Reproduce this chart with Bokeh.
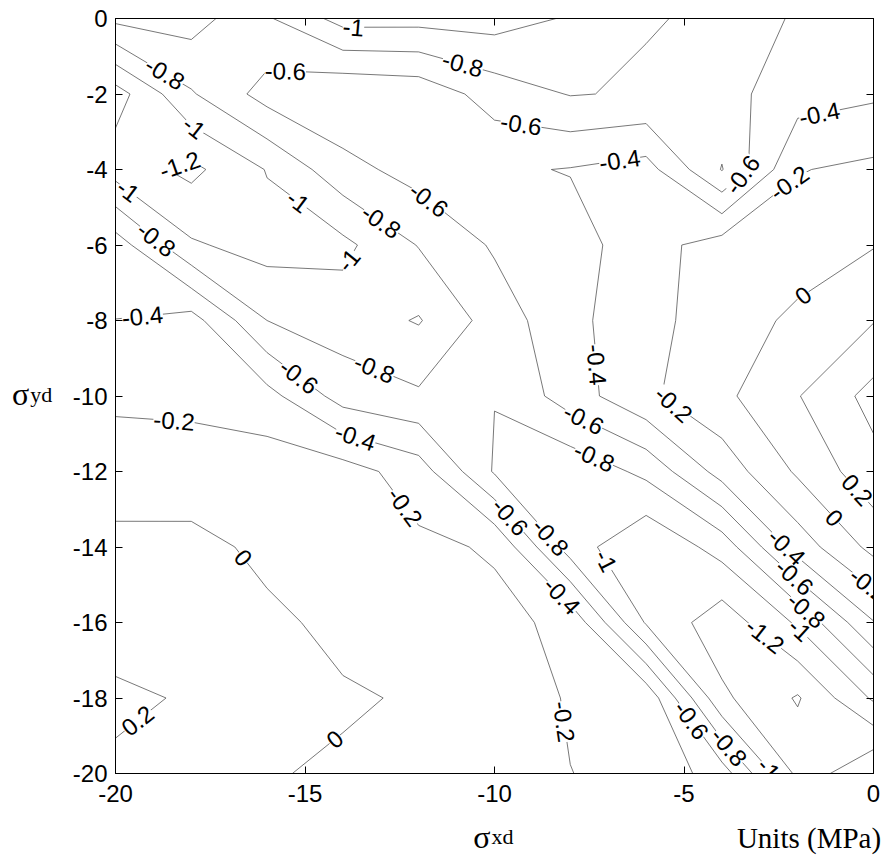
import numpy as np
import contourpy
from bokeh.plotting import figure
from bokeh.models import Range1d, LinearAxis, FixedTicker, Label, ColumnDataSource
from bokeh.embed import file_html
from bokeh.resources import INLINE
from bokeh.core.properties import value

# grid nodes (MPa)
SX = [-20, -18, -16, -14, -12, -10, -8, -6, -4, -2, 0]
SY = [0, -2, -4, -6, -8, -10, -12, -14, -16, -18, -20]   # rows, top to bottom

# value rows, one per SY entry (columns follow SX)
Z_0   = [-0.55, -0.515, -0.776, -1.076, -1.07, -1.086, -0.98, -0.81, -0.777, -0.565, -0.50]
Z_2   = [-1.29, -0.82, -0.52, -0.42, -0.46, -0.69, -0.81, -0.78, -0.67, -0.49, -0.433]
Z_4   = [-1.09, -1.25, -0.99, -0.67, -0.52, -0.43, -0.39, -0.32, -0.81, -0.21, -0.155]
Z_6   = [-0.50, -0.975, -1.08, -1.05, -0.79, -0.575, -0.49, -0.28, -0.11, -0.10, -0.01]
Z_8   = [-0.398, -0.32, -0.80, -0.90, -1.015, -0.71, -0.457, -0.264, -0.10, 0.04, 0.19]
Z_10  = [-0.23, -0.25, -0.33, -0.685, -0.77, -0.795, -0.50, -0.24, -0.047, 0.19, 0.469]
Z_12  = [-0.12, -0.105, -0.087, -0.11, -0.30, -0.82, -0.95, -0.75, -0.32, 0.03, 0.33]
Z_14  = [0.062, 0.054, -0.04, -0.08, -0.16, -0.22, -0.90, -1.18, -0.92, -0.31, 0.06]
Z_16  = [0.075, 0.10, 0.033, -0.04, -0.09, -0.15, -0.245, -1.02, -1.32, -0.97, -0.41]
Z_18  = [0.25, 0.175, 0.06, 0.017, -0.015, -0.10, -0.215, -0.25, -1.16, -1.42, -0.97]
Z_20  = [0.156, 0.12, 0.01, -0.02, -0.07, -0.12, -0.198, -0.24, -0.50, -1.25, -1.60]

LEVELS = [-1.4, -1.2, -1.0, -0.8, -0.6, -0.4, -0.2, 0.0, 0.2, 0.4]
X_TICKS = [-20, -15, -10, -5, 0]
Y_TICKS = [0, -2, -4, -6, -8, -10, -12, -14, -16, -18, -20]

# approximate places where the contour labels sit (level, x, y)
LABEL_HINTS = [
    (-1.0, -13.72, -0.29), (-0.8, -10.83, -1.19), (-0.8, -18.7, -1.46),
    (-0.6, -15.52, -1.40), (-0.6, -9.3, -2.8), (-0.4, -6.68, -3.87),
    (-0.6, -3.44, -4.16), (-0.4, -1.4, -2.65), (-0.2, -2.25, -4.32),
    (-1.0, -17.93, -2.89), (-1.2, -18.28, -3.95), (-1.0, -19.7, -4.6),
    (-1.0, -15.3, -5.0), (-0.8, -13.03, -5.43), (-1.0, -13.75, -6.46),
    (-0.6, -11.84, -4.93), (-0.8, -18.99, -5.93), (-0.4, -19.28, -8.0),
    (-0.6, -15.2, -9.53), (-0.8, -13.2, -9.35), (-0.2, -18.46, -10.73),
    (-0.4, -13.7, -11.2), (-0.2, -12.45, -13.0), (-0.4, -7.28, -9.17),
    (-0.6, -7.68, -10.68), (-0.8, -7.42, -11.73), (-0.2, -5.3, -10.25),
    (-0.6, -9.67, -13.27), (-0.8, -8.56, -13.77), (-1.0, -7.18, -14.44),
    (-0.4, -8.29, -15.36), (-0.2, -8.13, -18.62), (0.0, -16.69, -14.33),
    (0.0, -14.17, -19.15), (0.2, -19.36, -18.67), (0.0, -1.75, -7.5),
    (0.2, -0.48, -12.53), (0.0, -1.06, -13.25), (-0.4, -2.33, -14.04),
    (-0.6, -2.17, -14.89), (-0.8, -1.91, -15.84), (-1.0, -2.15, -16.4),
    (-1.2, -2.94, -16.45), (-0.2, -0.26, -15.18), (-0.6, -4.69, -18.5),
    (-0.8, -3.68, -19.18), (-1.0, -2.67, -19.8),
]

Z = np.array([Z_0, Z_2, Z_4, Z_6, Z_8, Z_10, Z_12, Z_14, Z_16, Z_18, Z_20], dtype=float)
xs = np.array(SX, dtype=float)
ys = np.array(SY, dtype=float)[::-1]
zz = Z[::-1, :]

W, H = 890, 868
p = figure(width=W, height=H, x_range=Range1d(-20, 0), y_range=Range1d(-20, 0),
           output_backend="svg", toolbar_location=None,
           min_border_left=115, min_border_right=17, min_border_top=18, min_border_bottom=95)
p.grid.visible = False
p.outline_line_color = "black"
p.outline_line_width = 1
p.background_fill_color = "white"
p.border_fill_color = "white"

p.contour(x=xs, y=ys, z=zz, levels=LEVELS, line_color="#555555", line_width=0.8, fill_color=None)

# label placement: snap each hint onto the computed contour line and
# orient the label along the line over roughly the label's length
PXS = np.array([37.9, 37.75])      # approx. pixels per data unit (x, y)
HALF = 19.0                        # half label length, px


def _point_at(P, cum, s):
    s = min(max(s, 0.0), cum[-1])
    i = int(np.clip(np.searchsorted(cum, s) - 1, 0, len(P) - 2))
    seg = cum[i + 1] - cum[i]
    t = (s - cum[i]) / seg if seg > 0 else 0.0
    return P[i] + t * (P[i + 1] - P[i])


gen = contourpy.contour_generator(xs, ys, zz, line_type="Separate")
lab_x, lab_y, lab_t, lab_a = [], [], [], []
for lev, hx, hy in LABEL_HINTS:
    best = None
    h = np.array([hx, hy]) * PXS
    for line in gen.lines(lev):
        if len(line) < 2:
            continue
        P = line * PXS
        seglen = np.hypot(*(P[1:] - P[:-1]).T)
        cum = np.concatenate([[0.0], np.cumsum(seglen)])
        for i in range(len(P) - 1):
            if seglen[i] == 0:
                continue
            d = P[i + 1] - P[i]
            t = float(np.clip(((h - P[i]) @ d) / (d @ d), 0, 1))
            q = P[i] + t * d
            dist = float((q - h) @ (q - h))
            if best is None or dist < best[0]:
                best = (dist, q, P, cum, cum[i] + t * seglen[i])
    if best is None:
        continue
    _, q, P, cum, s0 = best
    d = _point_at(P, cum, s0 + HALF) - _point_at(P, cum, s0 - HALF)
    ang = np.arctan2(d[1], d[0])
    if ang > np.pi / 2:
        ang -= np.pi
    if ang <= -np.pi / 2:
        ang += np.pi
    lab_x.append(q[0] / PXS[0]); lab_y.append(q[1] / PXS[1])
    lab_t.append("0" if lev == 0 else ("%g" % lev)); lab_a.append(ang)

src = ColumnDataSource(dict(x=lab_x, y=lab_y, t=lab_t, a=lab_a))
p.text(x="x", y="y", text="t", angle="a", source=src, text_font=value("Liberation Sans"),
       text_font_size="24px", text_align="center", text_baseline="middle", text_color="black",
       background_fill_color="white", background_fill_alpha=1.0, padding=0)

for ax in (p.xaxis[0], p.yaxis[0]):
    ax.major_tick_in = 7
    ax.major_tick_out = 0
    ax.minor_tick_line_color = None
    ax.axis_line_color = "black"
    ax.major_tick_line_color = "black"
    ax.major_label_text_font = "Liberation Sans"
    ax.major_label_text_font_size = "24px"
    ax.major_label_text_color = "black"
p.xaxis[0].ticker = FixedTicker(ticks=X_TICKS)
p.yaxis[0].ticker = FixedTicker(ticks=Y_TICKS)
p.xaxis[0].major_label_overrides = {t: "%d" % t for t in X_TICKS}
p.yaxis[0].major_label_overrides = {t: "%d" % t for t in Y_TICKS}
p.xaxis[0].major_label_standoff = 11
p.yaxis[0].major_label_standoff = 8

for side, tk in (("above", X_TICKS), ("right", Y_TICKS)):
    ax = LinearAxis(ticker=FixedTicker(ticks=tk), major_tick_in=7, major_tick_out=0,
                    minor_tick_line_color=None, major_label_text_font_size="8px",
                    major_label_overrides={t: "" for t in tk},
                    major_label_standoff=0, axis_line_color="black")
    p.add_layout(ax, side)

serif = "Liberation Serif"
# axis titles live in side panels so that they are not clipped to the plot frame
p.add_layout(Label(x=-22.73, y=-9.95, text="σ", text_font=serif, text_font_size="32px",
                   text_color="black", text_baseline="alphabetic"), "left")
p.add_layout(Label(x=-22.25, y=-9.95, text="yd", text_font=serif, text_font_size="22px",
                   text_color="black", text_baseline="alphabetic"), "left")
p.add_layout(Label(x=-10.56, y=-21.68, text="σ", text_font=serif, text_font_size="32px",
                   text_color="black", text_baseline="alphabetic"), "left")
p.add_layout(Label(x=-10.08, y=-21.68, text="xd", text_font=serif, text_font_size="22px",
                   text_color="black", text_baseline="alphabetic"), "below")
p.add_layout(Label(x=0.2, y=-21.7, text="Units (MPa)", text_font=serif, text_font_size="29px",
                   text_color="black", text_align="right", text_baseline="alphabetic"), "below")

open("out.html", "w").write(file_html(p, INLINE))
